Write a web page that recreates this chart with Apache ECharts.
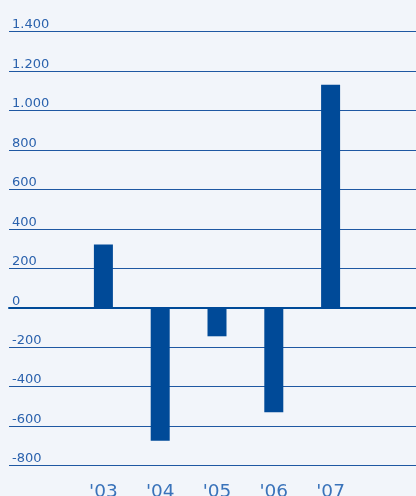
<!DOCTYPE html>
<html>
<head>
<meta charset="utf-8">
<script src="https://cdn.jsdelivr.net/npm/echarts@6/dist/echarts.min.js"></script>
<style>
html,body{margin:0;padding:0;background:#f2f5fa;}
#c{width:416px;height:496px;}
</style>
</head>
<body>
<div id="c"></div>
<script>
const categories = ["'03", "'04", "'05", "'06", "'07"];
const values = [320, -675, -145, -530, 1130];
const yMin = -800, yMax = 1400, yStep = 200;

const chart = echarts.init(document.getElementById('c'), null, {renderer: 'canvas'});
const fmt = v => (v >= 1000 ? (Math.floor(v/1000) + '.' + String(v%1000).padStart(3,'0')) : String(v));
chart.setOption({
  backgroundColor: '#f2f5fa',
  animation: false,
  grid: [
    {left: 9, right: 0, top: 31.5, height: 434, containLabel: false, outerBoundsMode: 'none'},
    {left: 75, width: 284, top: 31.5, height: 434, containLabel: false, outerBoundsMode: 'none'}
  ],
  xAxis: [
    {gridIndex: 0, type: 'value', min: 0, max: 1, show: true,
     axisLine: {show: true, onZero: true, lineStyle: {color: '#004a98', width: 2}},
     axisTick: {show: false}, axisLabel: {show: false}, splitLine: {show: false}},
    {gridIndex: 1, type: 'category', data: categories, position: 'bottom',
     axisLine: {show: false, onZero: false}, axisTick: {show: false},
     axisLabel: {color: '#3a73ba', fontSize: 18.5, fontFamily: 'DejaVu Sans', margin: 17}}
  ],
  yAxis: [
    {gridIndex: 0, type: 'value', min: yMin, max: yMax, interval: yStep,
     axisLine: {show: false}, axisTick: {show: false},
     axisLabel: {inside: true, margin: 3, color: '#2b62ad', fontSize: 13, fontFamily: 'DejaVu Sans',
       verticalAlign: 'bottom', lineHeight: 13, formatter: fmt},
     splitLine: {show: true, lineStyle: {color: '#1f58a2', width: 1.2}}},
    {gridIndex: 1, type: 'value', min: yMin, max: yMax, interval: yStep, show: false}
  ],
  series: [
    {type: 'bar', xAxisIndex: 1, yAxisIndex: 1, data: values, barWidth: 19,
     itemStyle: {color: '#004a98'}}
  ]
});
</script>
</body>
</html>
